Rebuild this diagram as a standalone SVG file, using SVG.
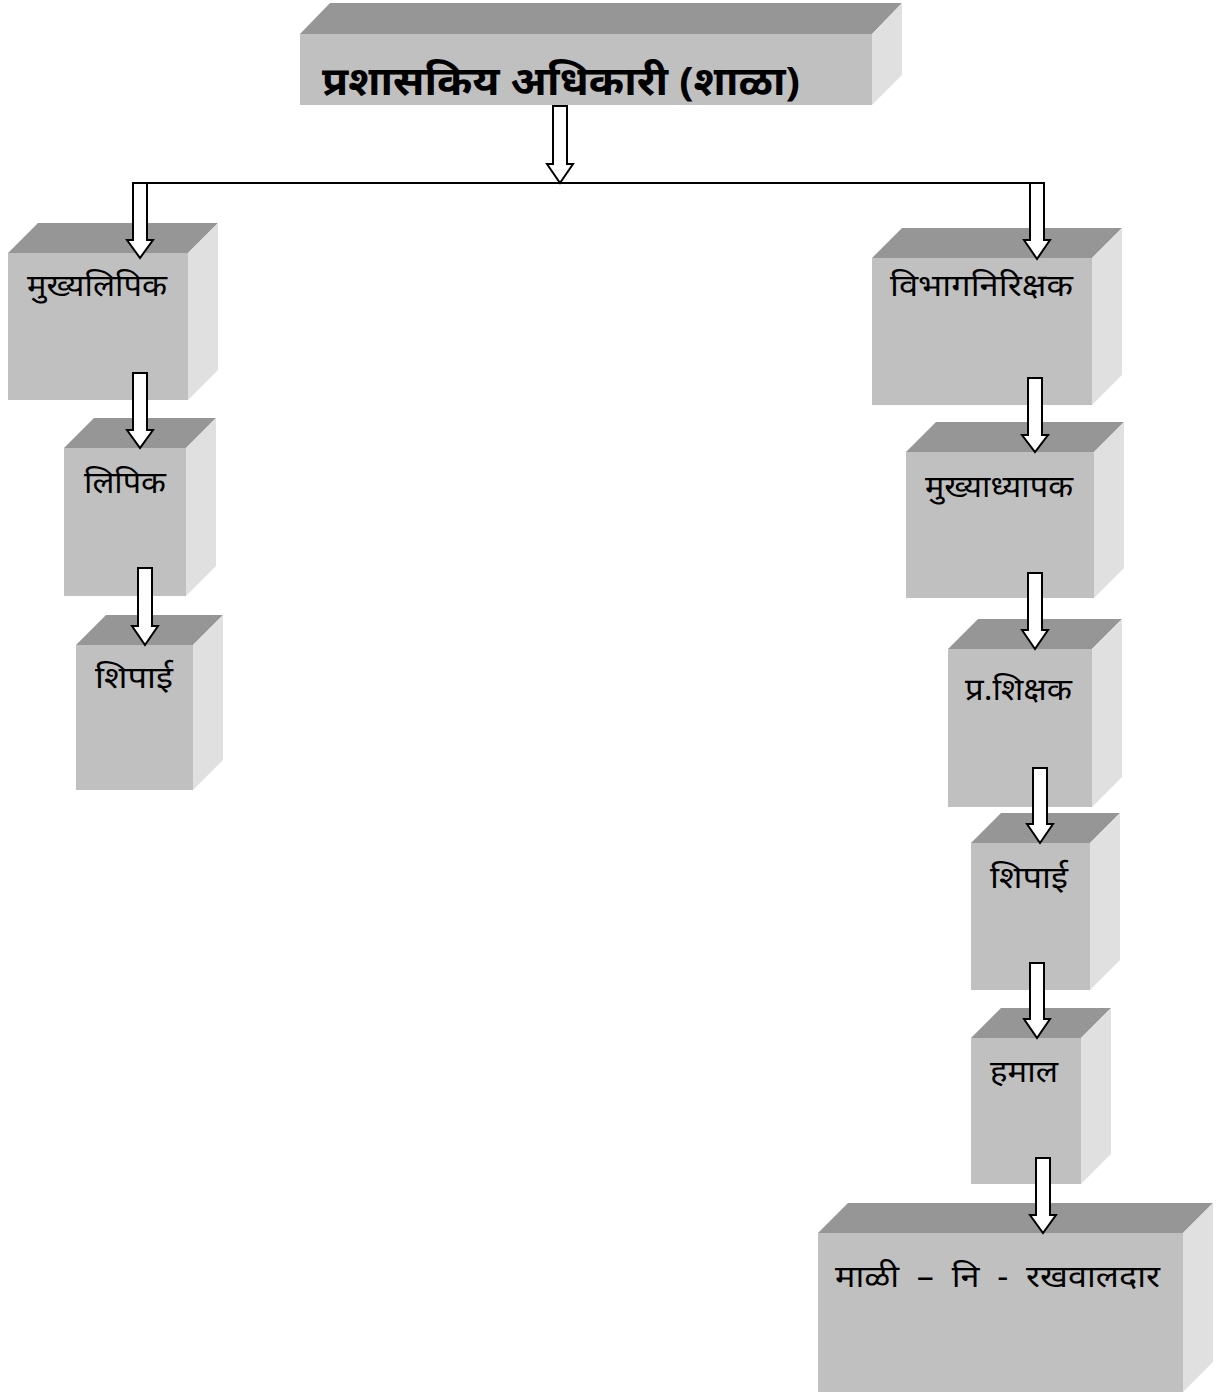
<svg xmlns="http://www.w3.org/2000/svg" width="1222" height="1395" viewBox="0 0 1222 1395">
<style>
.front{fill:#c0c0c0}
.top{fill:#969696}
.side{fill:#e0e0e0}
.lbl{font-family:"Noto Sans","Liberation Serif",serif;font-size:30px;fill:#000}
.title{font-family:"Noto Sans","Liberation Sans",sans-serif;font-size:40px;font-weight:bold;fill:#000}
.arrow{fill:#fff;stroke:#000;stroke-width:2;stroke-linejoin:miter}
.line{stroke:#000;stroke-width:2;fill:none}
</style>
<rect width="1222" height="1395" fill="#fff"/>

<g id="title">
<polygon class="top" points="300,34 330,3 902,3 872,34"/>
<polygon class="side" points="872,34 902,3 902,75 872,105"/>
<rect class="front" x="300" y="34" width="572" height="71"/>
<text class="title" x="322" y="95" textLength="478" lengthAdjust="spacingAndGlyphs">प्रशासकिय अधिकारी (शाळा)</text>
</g>

<g id="mukhyalipik">
<polygon class="top" points="8,253 38,223 218,223 188,253"/>
<polygon class="side" points="188,253 218,223 218,370 188,400"/>
<rect class="front" x="8" y="253" width="180" height="147"/>
<text class="lbl" x="27" y="296" textLength="140" lengthAdjust="spacingAndGlyphs">मुख्यलिपिक</text>
</g>

<g id="lipik">
<polygon class="top" points="64,448 94,418 216,418 186,448"/>
<polygon class="side" points="186,448 216,418 216,566 186,596"/>
<rect class="front" x="64" y="448" width="122" height="148"/>
<text class="lbl" x="84" y="493" textLength="82" lengthAdjust="spacingAndGlyphs">लिपिक</text>
</g>

<g id="shipai-left">
<polygon class="top" points="76,645 106,615 223,615 193,645"/>
<polygon class="side" points="193,645 223,615 223,760 193,790"/>
<rect class="front" x="76" y="645" width="117" height="145"/>
<text class="lbl" x="95" y="688" textLength="78" lengthAdjust="spacingAndGlyphs">शिपाई</text>
</g>

<g id="vibhag">
<polygon class="top" points="872,258 902,228 1122,228 1092,258"/>
<polygon class="side" points="1092,258 1122,228 1122,375 1092,405"/>
<rect class="front" x="872" y="258" width="220" height="147"/>
<text class="lbl" x="890" y="296" textLength="183" lengthAdjust="spacingAndGlyphs">विभागनिरिक्षक</text>
</g>

<g id="mukhyadhyapak">
<polygon class="top" points="906,452 936,422 1124,422 1094,452"/>
<polygon class="side" points="1094,452 1124,422 1124,568 1094,598"/>
<rect class="front" x="906" y="452" width="188" height="146"/>
<text class="lbl" x="925" y="497" textLength="148" lengthAdjust="spacingAndGlyphs">मुख्याध्यापक</text>
</g>

<g id="pra-shikshak">
<polygon class="top" points="948,649 978,619 1122,619 1092,649"/>
<polygon class="side" points="1092,649 1122,619 1122,777 1092,807"/>
<rect class="front" x="948" y="649" width="144" height="158"/>
<text class="lbl" x="965" y="700" textLength="107" lengthAdjust="spacingAndGlyphs">प्र.शिक्षक</text>
</g>

<g id="shipai-right">
<polygon class="top" points="971,843 1001,813 1120,813 1090,843"/>
<polygon class="side" points="1090,843 1120,813 1120,960 1090,990"/>
<rect class="front" x="971" y="843" width="119" height="147"/>
<text class="lbl" x="990" y="888" textLength="78" lengthAdjust="spacingAndGlyphs">शिपाई</text>
</g>

<g id="hamal">
<polygon class="top" points="971,1038 1001,1008 1111,1008 1081,1038"/>
<polygon class="side" points="1081,1038 1111,1008 1111,1154 1081,1184"/>
<rect class="front" x="971" y="1038" width="110" height="146"/>
<text class="lbl" x="990" y="1082" textLength="68" lengthAdjust="spacingAndGlyphs">हमाल</text>
</g>

<g id="mali">
<polygon class="top" points="818,1233 848,1203 1213,1203 1183,1233"/>
<polygon class="side" points="1183,1233 1213,1203 1213,1362 1183,1392"/>
<rect class="front" x="818" y="1233" width="365" height="159"/>
<text class="lbl" x="835" y="1287" xml:space="preserve" textLength="325" lengthAdjust="spacingAndGlyphs">माळी  –  नि  -  रखवालदार</text>
</g>

<g id="connectors">
<line class="line" x1="133" y1="183" x2="1044" y2="183"/>
<polygon class="arrow" points="553,106 567,106 567,164 573,164 560,183 547,164 553,164"/>
<polygon class="arrow" points="133,183 147,183 147,240 153,240 140,258 127,240 133,240"/>
<polygon class="arrow" points="133,373 147,373 147,430 153,430 140,448 127,430 133,430"/>
<polygon class="arrow" points="138,568 152,568 152,626 158,626 145,645 132,626 138,626"/>
<polygon class="arrow" points="1030,183 1044,183 1044,240 1050,240 1037,259 1024,240 1030,240"/>
<polygon class="arrow" points="1028,378 1042,378 1042,435 1048,435 1035,452 1022,435 1028,435"/>
<polygon class="arrow" points="1028,573 1042,573 1042,630 1048,630 1035,649 1022,630 1028,630"/>
<polygon class="arrow" points="1033,768 1047,768 1047,824 1053,824 1040,843 1027,824 1033,824"/>
<polygon class="arrow" points="1030,963 1044,963 1044,1019 1050,1019 1037,1038 1024,1019 1030,1019"/>
<polygon class="arrow" points="1036,1158 1050,1158 1050,1215 1056,1215 1043,1233 1030,1215 1036,1215"/>
</g>
</svg>
